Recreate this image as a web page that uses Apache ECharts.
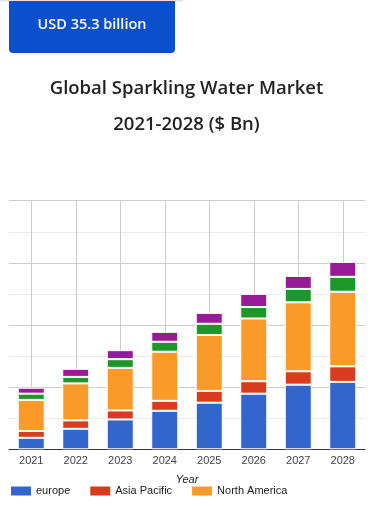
<!DOCTYPE html>
<html>
<head>
<meta charset="utf-8">
<script src="https://cdn.jsdelivr.net/npm/echarts@6/dist/echarts.min.js"></script>
<style>
html,body{margin:0;padding:0;background:#fff;}
#chart{width:373px;height:506px;}
</style>
</head>
<body>
<div id="chart"></div>
<script>
var years = ['2021','2022','2023','2024','2025','2026','2027','2028'];
var europe = [3.7, 6.6, 9.6, 12.4, 15.0, 17.9, 20.8, 21.7];
var asiaPacific = [2.2, 2.7, 2.9, 3.2, 3.8, 4.0, 4.3, 5.0];
var northAmerica = [10.0, 11.9, 13.7, 15.8, 18.0, 20.2, 22.2, 24.0];
var latinAmerica = [2.0, 2.1, 2.8, 3.2, 3.6, 3.7, 4.3, 4.8];
var middleEastAfrica = [1.9, 2.6, 2.9, 3.2, 3.5, 4.2, 4.2, 4.8];
var seriesNames = ['europe', 'Asia Pacific', 'North America', 'Latin America', 'Middle East & Africa'];
var seriesData = [europe, asiaPacific, northAmerica, latinAmerica, middleEastAfrica];
var colors = ['#3366cc', '#d93b1e', '#fa9a28', '#1f962a', '#971b97'];
var legendShown = ['europe', 'Asia Pacific', 'North America'];

var chart = echarts.init(document.getElementById('chart'), null, {renderer: 'canvas'});
var series = seriesNames.map(function (n, i) {
  return {
    name: n,
    type: 'bar',
    stack: 'total',
    barWidth: 27,
    data: seriesData[i],
    itemStyle: {color: colors[i], borderColor: '#ffffff', borderWidth: 1},
    emphasis: {disabled: true}
  };
});
chart.setOption({
  animation: false,
  color: colors,
  graphic: [
    {type: 'rect', shape: {x: 0, y: 0, width: 183, height: 1.5}, style: {fill: '#e3e3e3'}, z: 10},
    {type: 'rect', shape: {x: 9, y: 1, width: 166, height: 52, r: [0, 0, 4, 4]}, style: {fill: '#0b4fcd'}, z: 10},
    {type: 'text', x: 92, y: 24.5, style: {text: 'USD 35.3 billion', fill: '#ffffff', align: 'center', verticalAlign: 'middle', font: '600 14.5px "Open Sans", sans-serif'}, z: 11},
    {type: 'text', x: 186.5, y: 88.5, style: {text: 'Global Sparkling Water Market', fill: '#222222', align: 'center', verticalAlign: 'middle', font: '600 18.5px "Open Sans", sans-serif'}, z: 11},
    {type: 'text', x: 186.5, y: 125, style: {text: '2021-2028 ($ Bn)', fill: '#222222', align: 'center', verticalAlign: 'middle', font: '600 18.5px "Open Sans", sans-serif'}, z: 11}
  ],
  legend: {
    data: legendShown,
    left: 9,
    top: 484.5,
    padding: 0,
    itemWidth: 22,
    itemHeight: 11,
    itemGap: 18,
    icon: 'rect',
    selectedMode: false,
    textStyle: {fontSize: 11, color: '#222', fontFamily: '"Liberation Sans", Arial, sans-serif', padding: [0, 0, 0, -1]}
  },
  grid: {left: 9, right: 8, top: 200.7, bottom: 56.7, containLabel: false},
  xAxis: {
    type: 'category',
    data: years,
    boundaryGap: true,
    name: 'Year',
    nameLocation: 'middle',
    nameGap: 25,
    nameTextStyle: {fontSize: 11, fontStyle: 'italic', color: '#222', fontFamily: '"Liberation Sans", Arial, sans-serif'},
    axisLine: {show: true, lineStyle: {color: '#333333', width: 1}},
    axisTick: {show: false},
    axisLabel: {fontSize: 11, color: '#444444', margin: 6, fontFamily: '"Liberation Sans", Arial, sans-serif'},
    splitLine: {show: true, alignWithLabel: true, lineStyle: {color: '#cccccc', width: 1}}
  },
  yAxis: {
    type: 'value',
    min: 0,
    max: 80,
    interval: 20,
    axisLine: {show: false},
    axisTick: {show: false},
    axisLabel: {show: false},
    splitLine: {show: true, lineStyle: {color: '#cccccc', width: 1}},
    minorTick: {show: false, splitNumber: 2},
    minorSplitLine: {show: true, lineStyle: {color: '#ebebeb', width: 1}}
  },
  series: series
});
</script>
</body>
</html>
